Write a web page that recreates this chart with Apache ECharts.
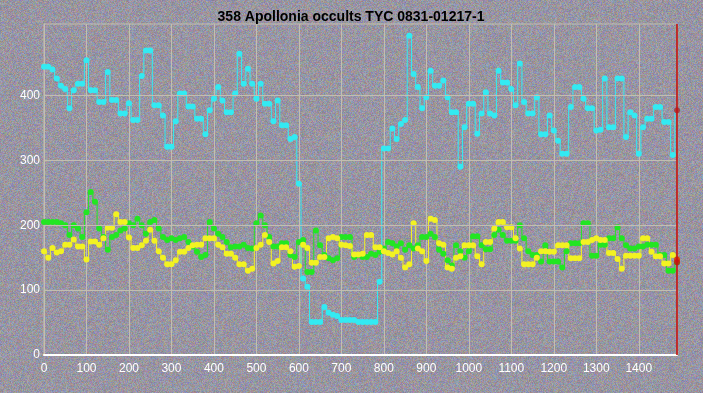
<!DOCTYPE html>
<html>
<head>
<meta charset="utf-8">
<script src="https://cdn.jsdelivr.net/npm/echarts@6/dist/echarts.min.js"></script>
<style>
html,body{margin:0;padding:0;}
#bg{position:absolute;left:0;top:0;}
#chart{position:absolute;left:0;top:0;width:703px;height:393px;}
</style>
</head>
<body>
<canvas id="bg" width="703" height="393"></canvas>
<div id="chart"></div>
<script>
const frames = [0,10,20,30,40,50,60,70,80,90,100,110,120,130,140,150,160,170,180,190,
200,210,220,230,240,250,260,270,280,290,300,310,320,330,340,350,360,370,380,390,
400,410,420,430,440,450,460,470,480,490,500,510,520,530,540,550,560,570,580,590,
600,610,620,630,640,650,660,670,680,690,700,710,720,730,740,750,760,770,780,790,
800,810,820,830,840,850,860,870,880,890,900,910,920,930,940,950,960,970,980,990,
1000,1010,1020,1030,1040,1050,1060,1070,1080,1090,1100,1110,1120,1130,1140,1150,1160,1170,1180,1190,
1200,1210,1220,1230,1240,1250,1260,1270,1280,1290,1300,1310,1320,1330,1340,1350,1360,1370,1380,1390,
1400,1410,1420,1430,1440,1450,1460,1470,1480,1490];

const cyanValues = [444,444,440,426,415,410,380,408,418,418,
454,408,408,390,390,436,393,393,372,372,
388,362,362,430,469,469,385,385,369,321,
321,360,403,403,383,383,364,364,340,377,
395,413,392,374,374,403,464,418,441,418,
395,418,387,387,360,392,354,354,333,336,
264,118,105,51,51,51,74,65,62,60,
54,54,54,54,51,51,51,51,51,113,
318,318,349,333,356,362,492,433,413,380,
397,438,415,415,423,397,374,374,290,351,
387,387,341,372,405,372,369,438,420,420,
410,385,449,390,372,372,397,340,340,369,
346,330,310,310,382,413,413,395,380,380,
346,347,426,351,351,426,426,336,374,369,
310,351,364,364,382,382,359,359,308,377];

const greenValues = [205,205,205,205,203,200,185,200,195,182,
220,251,236,195,182,162,182,185,192,195,
203,200,210,200,187,205,208,195,182,177,
180,177,180,182,174,167,159,151,154,205,
195,187,182,174,166,167,167,170,165,164,
203,215,200,182,167,167,172,172,154,151,
174,177,128,128,192,169,154,149,146,149,
182,182,182,151,154,151,151,156,154,159,
164,174,172,167,172,162,169,164,169,182,
182,187,182,162,156,146,138,169,160,150,
160,183,183,169,163,163,185,193,185,176,
176,176,200,180,160,154,154,144,169,144,
144,144,135,160,172,172,172,203,203,153,
153,170,170,180,180,197,180,169,164,164,
167,167,170,170,170,154,154,130,130,143];

const yellowValues = [160,150,165,158,160,170,170,178,167,167,
147,175,175,170,180,196,196,217,205,205,
181,165,165,169,176,193,176,160,150,140,
140,146,159,159,165,169,170,170,180,180,
180,170,166,156,156,150,140,140,130,133,
165,170,185,174,141,145,166,166,160,136,
137,170,165,142,142,151,151,180,182,180,
170,169,168,155,155,156,185,185,166,166,
160,157,155,160,150,135,140,203,164,160,
145,210,208,172,170,135,133,150,152,169,
169,169,152,140,174,174,195,205,205,197,
197,180,164,140,140,140,150,160,160,159,
159,169,169,169,149,149,149,174,174,177,
180,177,177,157,157,148,133,153,153,153,
153,180,180,159,152,152,141,141,154,147];

const xTicks = [0,100,200,300,400,500,600,700,800,900,1000,1100,1200,1300,1400];
const yTicks = [0,100,200,300,400];
const cursorFrame = 1490;
const titleText = '358 Apollonia occults TYC 0831-01217-1';

// ---- grainy background texture (deterministic hash noise) ----
(function(){
  const c = document.getElementById('bg');
  const ctx = c.getContext('2d');
  const img = ctx.createImageData(703, 393);
  function h(i){
    i = (i ^ 61) ^ (i >>> 16); i = i + (i << 3); i ^= i >>> 4;
    i = Math.imul(i, 0x27d4eb2d); i ^= i >>> 15; return (i >>> 0) / 4294967296;
  }
  for (let p = 0; p < 703*393; p++) {
    const a = h(p*3+1), b = h(p*3+2), d = h(p*3+3);
    const o = p*4;
    img.data[o]   = 152 + (a-0.5)*50;
    img.data[o+1] = 149 + (b-0.5)*44;
    img.data[o+2] = 162 + (d-0.5)*60 - (a-0.5)*24;
    img.data[o+3] = 255;
  }
  ctx.putImageData(img, 0, 0);
})();

const pairs = vals => frames.map((f, i) => [f, vals[i]]);
const gridCol = '#c2beb0';

function lineSeries(name, vals, color) {
  return {
    name, type: 'line', data: pairs(vals), step: 'middle',
    symbol: 'circle', symbolSize: 6, showSymbol: true,
    itemStyle: { color: color, borderWidth: 0 },
    lineStyle: { color: color, width: 1 },
    z: 3
  };
}

const chart = echarts.init(document.getElementById('chart'), null, {renderer: 'canvas'});
chart.setOption({
  backgroundColor: 'transparent',
  animation: false,
  title: {
    text: titleText, left: 346, top: 5, textAlign: 'center',
    textStyle: { fontFamily: "'Liberation Sans Narrow','Arial Narrow','Liberation Sans',sans-serif",
      fontWeight: 'bold', fontSize: 14, color: '#000' }
  },
  grid: { left: 44, right: 26, top: 24, bottom: 38, show: true, borderColor: gridCol, borderWidth: 1 },
  xAxis: {
    type: 'value', min: 0, max: 1490, interval: 100,
    axisLine: { show: true, lineStyle: { color: '#ffffff', width: 2 } },
    axisTick: { show: false },
    splitLine: { show: true, lineStyle: { color: gridCol, width: 1 } },
    axisLabel: { color: '#ffffff', fontSize: 12, margin: 8, fontFamily: "'Liberation Sans',Arial,sans-serif",
      showMaxLabel: false,
      formatter: v => (xTicks.indexOf(v) >= 0 ? String(v) : '') }
  },
  yAxis: {
    type: 'value', min: 0, max: 510, interval: 100,
    axisLine: { show: true, lineStyle: { color: gridCol, width: 1 } },
    axisTick: { show: false },
    splitLine: { show: false },
    axisLabel: { color: '#ffffff', fontSize: 12, margin: 4, fontFamily: "'Liberation Sans',Arial,sans-serif",
      formatter: v => (yTicks.indexOf(v) >= 0 ? String(v) : '') }
  },
  series: [
    {
      name: 'grid', type: 'line', data: [], silent: true,
      markLine: {
        silent: true, symbol: ['none','none'], label: { show: false },
        lineStyle: { color: gridCol, width: 1, type: 'solid' },
        data: yTicks.filter(v => v > 0).map(v => ({ yAxis: v }))
      },
      z: 1
    },
    lineSeries('green', greenValues, '#22e622'),
    lineSeries('yellow', yellowValues, '#f2f222'),
    lineSeries('cyan', cyanValues, '#33eaf2'),
    {
      name: 'cursor', type: 'scatter', symbol: 'circle', symbolSize: 6,
      data: [[cursorFrame, cyanValues[cyanValues.length-1]],
             [cursorFrame, greenValues[greenValues.length-1]],
             [cursorFrame, yellowValues[yellowValues.length-1]]],
      itemStyle: { color: '#c81010' },
      markLine: {
        silent: true, symbol: ['none','none'], label: { show: false },
        lineStyle: { color: '#c00000', width: 1.5, type: 'solid' },
        data: [{ xAxis: cursorFrame }]
      },
      z: 5
    }
  ]
});
</script>
</body>
</html>
